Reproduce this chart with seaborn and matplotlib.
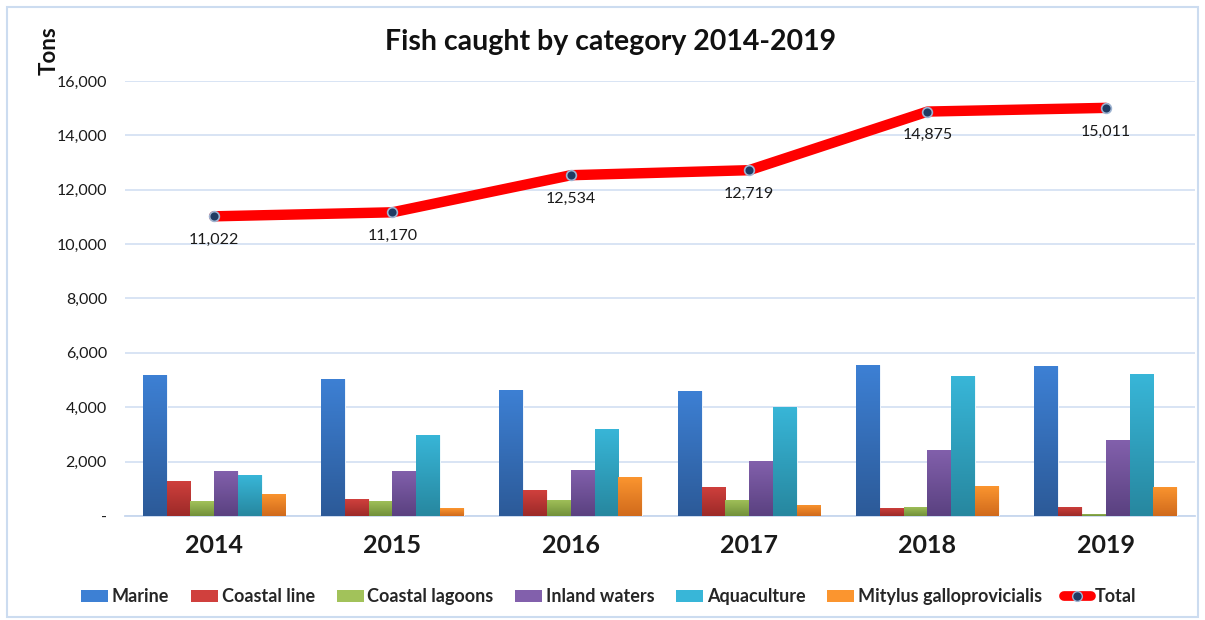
import numpy as np
import pandas as pd
import matplotlib
matplotlib.use("Agg")
import matplotlib.pyplot as plt
import seaborn as sns
from matplotlib.patches import Patch, Rectangle
from matplotlib.lines import Line2D
from matplotlib.colors import LinearSegmentedColormap
from matplotlib.ticker import FuncFormatter

# ---- data (tons) ----
years = ["2014", "2015", "2016", "2017", "2018", "2019"]
categories = ["Marine", "Coastal line", "Coastal lagoons", "Inland waters",
              "Aquaculture", "Mitylus galloprovicialis"]
marine = [5200, 5050, 4650, 4610, 5550, 5500]
coastal_line = [1300, 620, 950, 1080, 310, 350]
coastal_lagoons = [550, 560, 600, 590, 345, 90]
inland_waters = [1650, 1660, 1700, 2020, 2430, 2790]
aquaculture = [1500, 2990, 3200, 4010, 5140, 5210]
mitylus = [822, 290, 1434, 409, 1100, 1071]
total = [11022, 11170, 12534, 12719, 14875, 15011]

series = [marine, coastal_line, coastal_lagoons, inland_waters, aquaculture, mitylus]
# (top, bottom) colours for the vertical gradient of each series
grad_colors = [("#3D80D4", "#2C5A98"),
               ("#D0403D", "#9C2A28"),
               ("#A2C25A", "#71903A"),
               ("#8260AC", "#5A4180"),
               ("#38B6D8", "#27879F"),
               ("#FB952F", "#D06A1C")]
base_colors = [c[0] for c in grad_colors]

df = pd.DataFrame({
    "Year": np.repeat(years, len(categories)),
    "Category": categories * len(years),
    "Tons": [series[c][y] for y in range(len(years)) for c in range(len(categories))],
})

sns.set_theme(style="white")
plt.rcParams["font.family"] = ["Lato", "DejaVu Sans"]

fig = plt.figure(figsize=(12.05, 6.2), dpi=100)
ax = fig.add_axes([0.1037, 0.1677, 0.888, 0.7017])

sns.barplot(data=df, x="Year", y="Tons", hue="Category", order=years,
            hue_order=categories, palette=base_colors, width=0.8, gap=0,
            saturation=1, ax=ax, legend=False, zorder=3)

ax.set_ylim(0, 16000)
ax.set_xlim(-0.5, 5.5)

# vertical gradient fill for each bar
for i, cont in enumerate(ax.containers):
    cmap = LinearSegmentedColormap.from_list(f"g{i}", [grad_colors[i][1], grad_colors[i][0]])
    grad = np.linspace(0, 1, 128).reshape(-1, 1)
    for bar in cont:
        x0, y0 = bar.get_x(), bar.get_y()
        w, h = bar.get_width(), bar.get_height()
        im = ax.imshow(grad, extent=[x0, x0 + w, y0, y0 + h], origin="lower",
                       aspect="auto", cmap=cmap, zorder=3.5)
        im.set_clip_path(bar)
        bar.set_edgecolor("white")
        bar.set_linewidth(0.6)
ax.set_xlim(-0.5, 5.5)
ax.set_ylim(0, 16000)

# total line and markers
sns.pointplot(x=years, y=total, order=years, color="#FF0000", markers="",
              linewidth=7.5, ax=ax, zorder=5)
sns.pointplot(x=years, y=total, order=years, color="#1F3B63", linestyle="none",
              marker="o", markersize=7, markeredgecolor="#9DB3D1",
              markeredgewidth=1.2, ax=ax, zorder=6)
for i, v in enumerate(total):
    ax.annotate(f"{v:,}", (i, v), xytext=(0, -17), textcoords="offset points",
                ha="center", va="center", fontsize=11.5, color="#1a1a1a", zorder=7)

ax.set_xlim(-0.5, 5.5)
ax.set_ylim(0, 16000)

# axes styling
ax.set_yticks(np.arange(0, 16001, 2000))
ax.yaxis.set_major_formatter(FuncFormatter(lambda v, p: "-" if v == 0 else f"{int(v):,}"))
ax.tick_params(axis="y", length=0, pad=13, labelsize=11.5, labelcolor="#1a1a1a")
ax.grid(axis="y", color="#D5E2F3", linewidth=1.3, zorder=0)
ax.set_axisbelow(True)
for s in ["left", "right", "top"]:
    ax.spines[s].set_visible(False)
ax.spines["bottom"].set_color("#C7D7EE")
ax.spines["bottom"].set_linewidth(1.3)

ax.set_xticks(np.arange(-0.5, 6, 1), minor=False)
ax.set_xticklabels([])
ax.tick_params(axis="x", which="major", length=10, width=1.3, color="#C7D7EE", direction="out")
ax.set_xticks(np.arange(6), minor=True)
ax.set_xticklabels(years, minor=True, fontsize=18, fontweight="bold", color="#1a1a1a")
ax.tick_params(axis="x", which="minor", length=0, pad=13)
ax.set_xlabel("")
ax.set_ylabel("")

fig.text(0.507, 0.933, "Fish caught by category 2014-2019", ha="center", va="center",
         fontsize=20.5, fontweight="bold", color="#111111")
fig.text(0.041, 0.918, "Tons", rotation=90, ha="center", va="center",
         fontsize=16, fontweight="bold", color="#111111")

# legend
handles = [Patch(facecolor=grad_colors[i][0], edgecolor="none") for i in range(len(categories))]
handles.append(Line2D([0], [0], color="#FF0000", linewidth=7, marker="o", markersize=7,
                      markerfacecolor="#1F3B63", markeredgecolor="#9DB3D1",
                      solid_capstyle="round"))
labels = categories + ["Total"]
fig.legend(handles, labels, loc="center", bbox_to_anchor=(0.505, 0.038), ncol=7,
           frameon=False, handlelength=1.5, handleheight=0.65,
           handletextpad=0.2, columnspacing=1.2, prop={"weight": "bold", "size": 13})

# chart border
fig.add_artist(Rectangle((7 / 1205, 3 / 620), 1191 / 1205, 610 / 620,
                         transform=fig.transFigure, fill=False,
                         edgecolor="#CCDCF0", linewidth=1.5))

fig.savefig("out.png", dpi=100)
